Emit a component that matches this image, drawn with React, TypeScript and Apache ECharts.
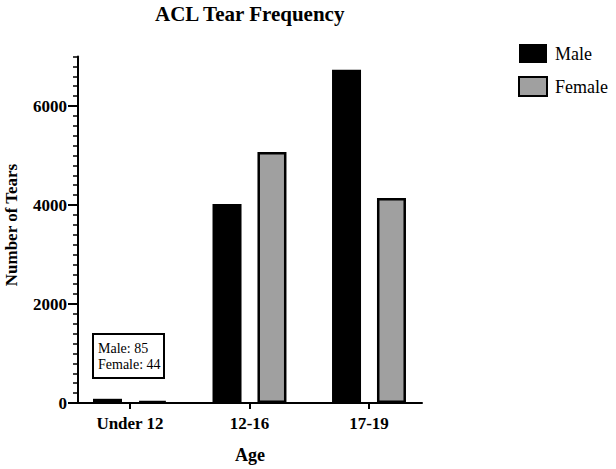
import React, { useEffect, useRef } from "react";
import * as echarts from "echarts";

const categories = ["Under 12", "12-16", "17-19"];
const maleValues = [85, 4020, 6730];
const femaleValues = [44, 5070, 4140];
const yLabelValues = [0, 2000, 4000, 6000];
const seriesNames = ["Male", "Female"];
const noteLines = ["Male: 85", "Female: 44"];

const SERIF = "'Liberation Serif', 'Times New Roman', serif";

const catIdx = categories.map((_, i) => i);
const maleData = maleValues.map((v, i) => [i, v]);
const femaleData = femaleValues.map((v, i) => [i, v]);

export default function App() {
  const ref = useRef<HTMLDivElement>(null);
  useEffect(() => {
    if (!ref.current) return;
    const chart = echarts.init(ref.current, undefined, { renderer: "svg" });
    chart.setOption({
      animation: false,
      backgroundColor: "#ffffff",
      title: {
        text: "ACL Tear Frequency",
        left: 150,
        top: -2,
        textStyle: { fontFamily: SERIF, fontSize: 21, fontWeight: "bold", color: "#000" },
      },
      legend: {
        orient: "vertical",
        left: 513,
        top: 39,
        itemWidth: 28,
        itemHeight: 19,
        itemGap: 13,
        icon: "rect",
        data: seriesNames,
        textStyle: { fontFamily: SERIF, fontSize: 18, color: "#000", padding: [0, 0, 0, 3] },
      },
      grid: { left: 78, right: 194, top: 56.5, bottom: 66 },
      xAxis: {
        type: "value",
        min: -0.435,
        max: 2.4435,
        axisLine: { show: true, onZero: false, lineStyle: { color: "#000", width: 2 } },
        axisTick: { show: true, customValues: catIdx, length: 6, lineStyle: { color: "#000", width: 2 } },
        axisLabel: {
          customValues: catIdx,
          formatter: (v: number) => categories[Math.round(v)] ?? "",
          fontFamily: SERIF,
          fontSize: 17,
          fontWeight: "bold",
          color: "#000",
          margin: 12,
        },
        splitLine: { show: false },
        name: "Age",
        nameLocation: "middle",
        nameGap: 43,
        nameTextStyle: { fontFamily: SERIF, fontSize: 18, fontWeight: "bold", color: "#000" },
      },
      yAxis: [
        {
          type: "value",
          min: 0,
          max: 7000,
          interval: 1000,
          axisLine: { show: true, onZero: false, lineStyle: { color: "#000", width: 2 } },
          axisTick: { show: true, customValues: yLabelValues, length: 10, lineStyle: { color: "#000", width: 2 } },
          axisLabel: {
            customValues: yLabelValues,
            formatter: (v: number) => String(v),
            fontFamily: SERIF,
            fontSize: 17,
            fontWeight: "bold",
            color: "#000",
            margin: 11,
          },
          splitLine: { show: false },
        },
        {
          type: "value",
          position: "left",
          min: 0,
          max: 7000,
          interval: 200,
          axisLine: { show: false, onZero: false },
          axisTick: { show: true, length: 5, lineStyle: { color: "#000", width: 1.5 } },
          axisLabel: { show: false },
          splitLine: { show: false },
        },
      ],
      series: [
        {
          name: seriesNames[0],
          type: "bar",
          data: maleData,
          barWidth: 29,
          barGap: "55%",
          itemStyle: { color: "#000000", borderColor: "#000", borderWidth: 0 },
        },
        {
          name: seriesNames[1],
          type: "bar",
          data: femaleData,
          barWidth: 29,
          barGap: "55%",
          itemStyle: { color: "#a0a0a0", borderColor: "#000", borderWidth: 2.5 },
        },
      ],
      graphic: [
        {
          type: "text",
          x: 11,
          y: 225,
          rotation: Math.PI / 2,
          style: {
            text: "Number of Tears",
            fontFamily: SERIF,
            fontSize: 17,
            fontWeight: "bold",
            fill: "#000",
            align: "center",
            verticalAlign: "middle",
          },
        },
        {
          type: "rect",
          shape: { x: 93, y: 334, width: 71, height: 44 },
          style: { fill: "#fff", stroke: "#000", lineWidth: 2 },
          z: 10,
        },
        {
          type: "text",
          x: 98,
          y: 340,
          z: 11,
          style: {
            text: noteLines.join("\n"),
            fontFamily: SERIF,
            fontSize: 14,
            lineHeight: 16,
            fill: "#000",
          },
        },
      ],
    });
    return () => chart.dispose();
  }, []);
  return <div ref={ref} style={{ position: "fixed", left: 0, top: 0, width: 616, height: 469 }} />;
}
